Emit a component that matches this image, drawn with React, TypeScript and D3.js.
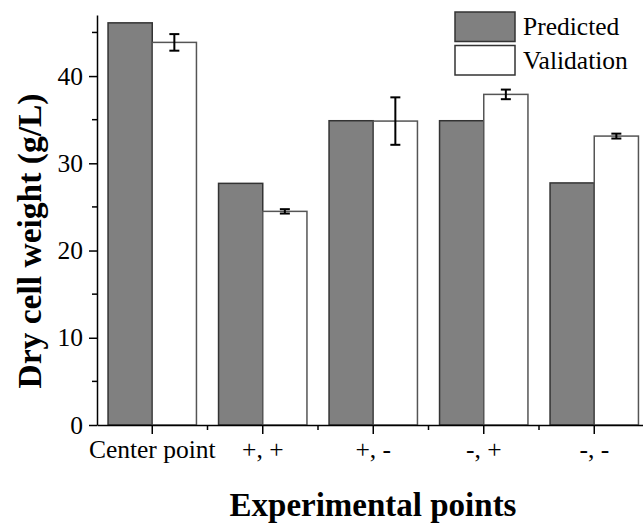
import React, { useEffect, useRef } from "react";
import * as d3 from "d3";

// values
const categories = ["Center point", "+, +", "+, -", "-, +", "-, -"];
const seriesNames = ["Predicted", "Validation"];
const predicted = [46.1, 27.7, 34.88, 34.88, 27.75];
const validation = [43.86, 24.49, 34.84, 37.9, 33.12];
const validationErr = [0.95, 0.25, 2.72, 0.55, 0.28];
const yTicks = [0, 10, 20, 30, 40];
const yMinorTicks = [5, 15, 25, 35, 45];

const FONT = "'Liberation Serif', 'Times New Roman', serif";

export default function App() {
  const ref = useRef<SVGSVGElement>(null);

  useEffect(() => {
    const svg = d3.select(ref.current);
    svg.selectAll("*").remove();

    const left = 97, top = 15, bottom = 425;

    const x = d3.scaleBand()
      .domain(categories)
      .range([left, left + 5 * 110.5]);

    const xSub = d3.scaleBand()
      .domain(seriesNames)
      .range([0, x.bandwidth()])
      .paddingOuter(0.25);

    const y = d3.scaleLinear()
      .domain([0, 47])
      .range([bottom, top]);

    const g = svg.append("g").style("font-family", FONT);

    // bars
    const rows = categories.map((c, i) => ({
      cat: c, p: predicted[i], v: validation[i], e: validationErr[i]
    }));

    g.selectAll(".pred")
      .data(rows)
      .enter()
      .append("rect")
      .attr("x", d => x(d.cat)! + xSub("Predicted")!)
      .attr("y", d => y(d.p))
      .attr("width", xSub.bandwidth())
      .attr("height", d => y(0) - y(d.p))
      .attr("fill", "#808080")
      .attr("stroke", "#333")
      .attr("stroke-width", 1.5);

    g.selectAll(".val")
      .data(rows)
      .enter()
      .append("rect")
      .attr("x", d => x(d.cat)! + xSub("Validation")!)
      .attr("y", d => y(d.v))
      .attr("width", xSub.bandwidth())
      .attr("height", d => y(0) - y(d.v))
      .attr("fill", "#fff")
      .attr("stroke", "#555")
      .attr("stroke-width", 1.5);

    // error bars
    const cap = 5;
    const eb = g.selectAll(".err")
      .data(rows)
      .enter()
      .append("g")
      .attr("stroke", "#000")
      .attr("stroke-width", 2);
    const cx = (d: any) => x(d.cat)! + xSub("Validation")! + xSub.bandwidth() / 2;
    eb.append("line")
      .attr("x1", cx).attr("x2", cx)
      .attr("y1", d => y(d.v - d.e)).attr("y2", d => y(d.v + d.e));
    eb.append("line")
      .attr("x1", d => cx(d) - cap).attr("x2", d => cx(d) + cap)
      .attr("y1", d => y(d.v + d.e)).attr("y2", d => y(d.v + d.e));
    eb.append("line")
      .attr("x1", d => cx(d) - cap).attr("x2", d => cx(d) + cap)
      .attr("y1", d => y(d.v - d.e)).attr("y2", d => y(d.v - d.e));

    // y axis
    const yAxis = g.append("g")
      .attr("transform", `translate(${left},0)`)
      .call(d3.axisLeft(y).tickValues(yTicks).tickSize(8).tickSizeOuter(0).tickFormat(d3.format("d")));
    yAxis.attr("font-family", null).attr("font-size", null);
    yAxis.select(".domain").attr("stroke", "#000").attr("stroke-width", 1.5);
    yAxis.selectAll(".tick line").attr("stroke", "#000").attr("stroke-width", 1.5);
    yAxis.selectAll(".tick text")
      .style("font-family", FONT)
      .style("font-size", "25.5px")
      .attr("fill", "#000")
      .attr("x", -14);
    g.append("g")
      .selectAll("line")
      .data(yMinorTicks)
      .enter()
      .append("line")
      .attr("x1", left - 5).attr("x2", left)
      .attr("y1", d => y(d)).attr("y2", d => y(d))
      .attr("stroke", "#000").attr("stroke-width", 1.5);

    // x axis
    const xAxis = g.append("g")
      .attr("transform", `translate(0,${bottom})`)
      .call(d3.axisBottom(x).tickSize(9).tickSizeOuter(0));
    xAxis.attr("font-family", null).attr("font-size", null);
    xAxis.select(".domain").attr("stroke", "#000").attr("stroke-width", 1.5);
    xAxis.selectAll(".tick line").attr("stroke", "#000").attr("stroke-width", 1.5);
    xAxis.selectAll(".tick text")
      .style("font-family", FONT)
      .style("font-size", "25.5px")
      .attr("fill", "#000")
      .attr("y", 15);
    g.append("g")
      .selectAll("line")
      .data(categories.slice(1))
      .enter()
      .append("line")
      .attr("x1", d => x(d)!).attr("x2", d => x(d)!)
      .attr("y1", bottom).attr("y2", bottom + 5)
      .attr("stroke", "#000").attr("stroke-width", 1.5);

    // axis titles
    g.append("text")
      .attr("x", 373)
      .attr("y", 516)
      .attr("text-anchor", "middle")
      .style("font-weight", "bold")
      .style("font-size", "33px")
      .text("Experimental points");
    g.append("text")
      .attr("transform", `translate(41,241) rotate(-90)`)
      .attr("text-anchor", "middle")
      .style("font-weight", "bold")
      .style("font-size", "33.5px")
      .text("Dry cell weight (g/L)");

    // legend
    const legend = g.append("g").attr("transform", "translate(455,12)");
    const lg = legend.selectAll("g")
      .data(seriesNames)
      .enter()
      .append("g")
      .attr("transform", (d, i) => `translate(0,${i * 33.5})`);
    lg.append("rect")
      .attr("width", 60).attr("height", 29.5)
      .attr("fill", (d, i) => (i === 0 ? "#808080" : "#fff"))
      .attr("stroke", "#333")
      .attr("stroke-width", 1.5);
    lg.append("text")
      .attr("x", 68).attr("y", 23)
      .style("font-size", "25.5px")
      .text(d => d);
  }, []);

  return (
    <svg
      ref={ref}
      width={643}
      height={525}
      style={{ position: "absolute", left: 0, top: 0, background: "#fff" }}
    />
  );
}
